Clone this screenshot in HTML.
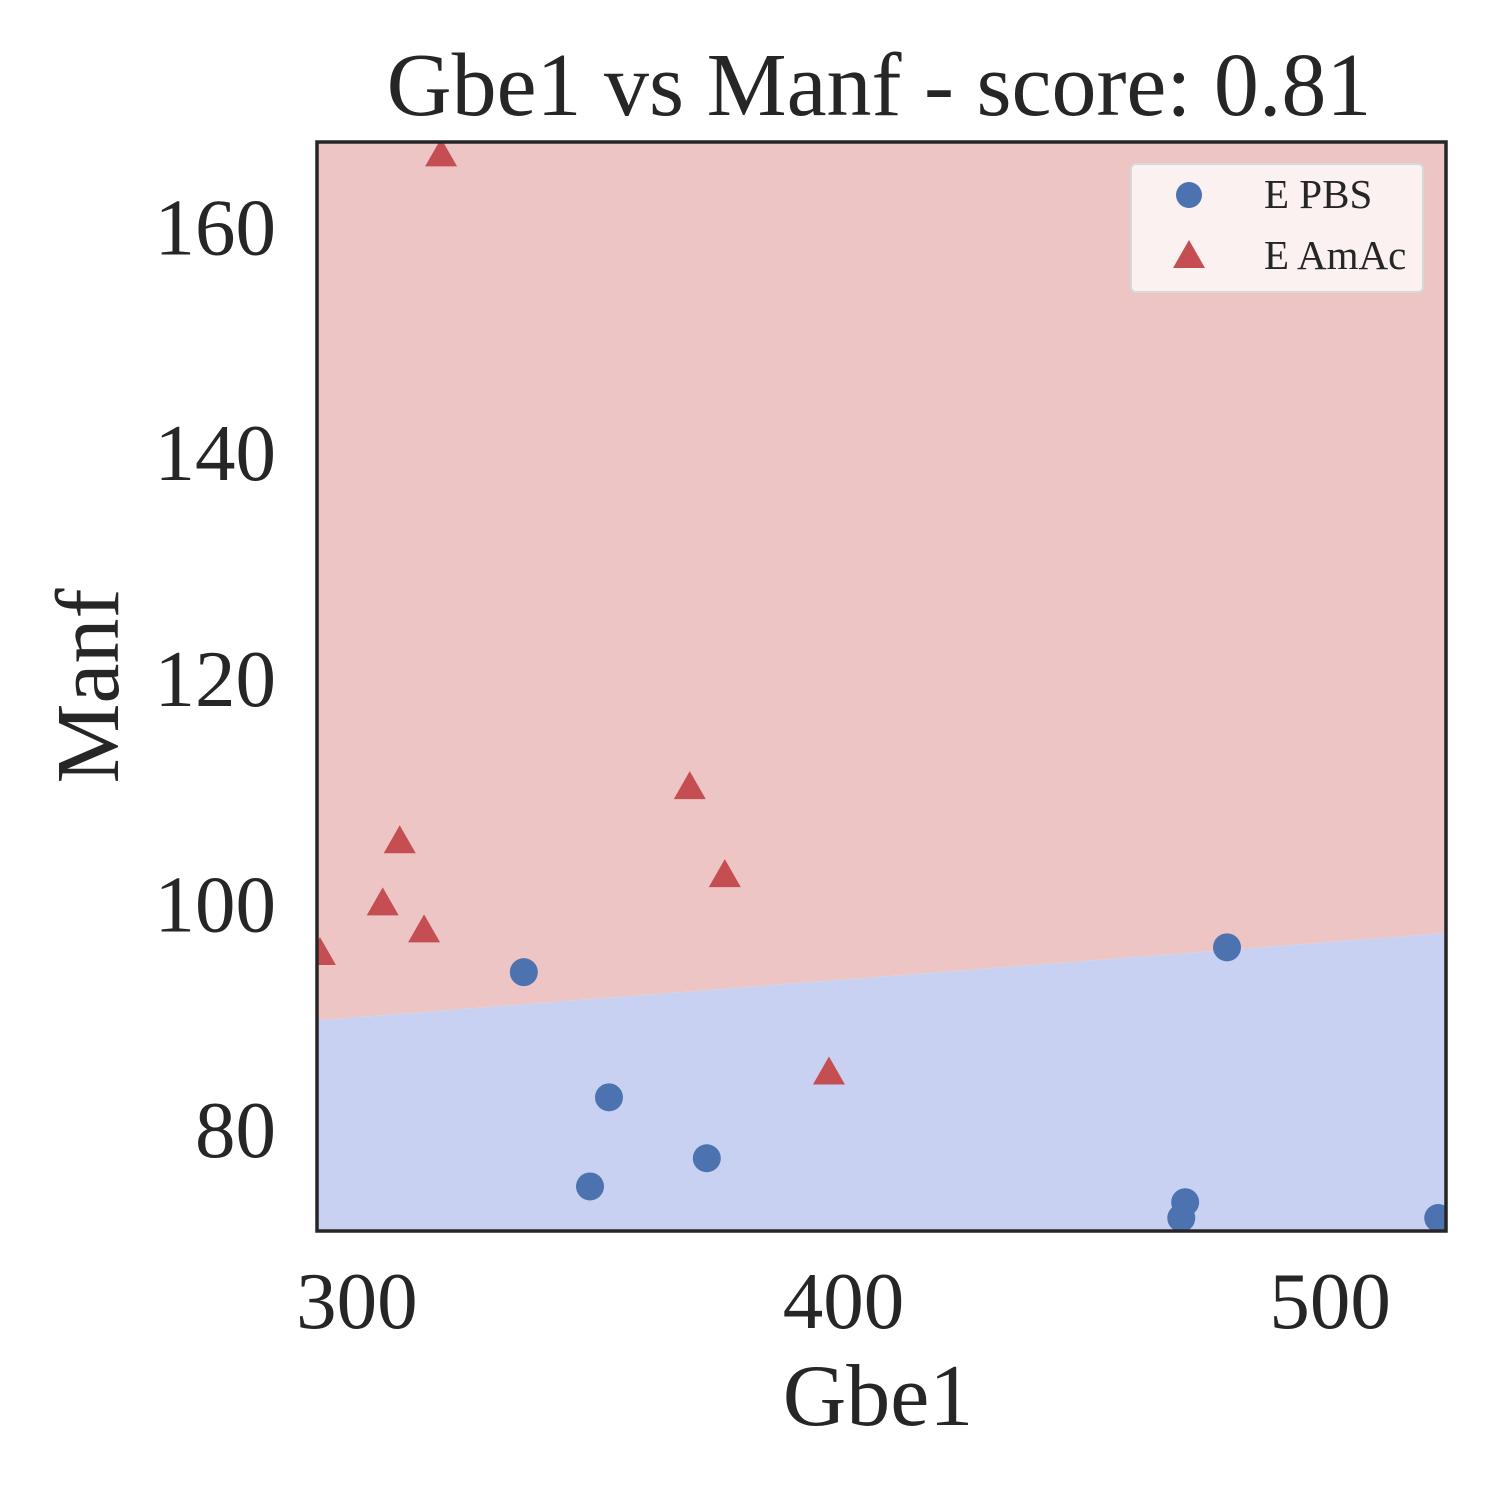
<!DOCTYPE html>
<html>
<head>
<meta charset="utf-8">
<style>
html,body{margin:0;padding:0;background:#fff;}
svg{display:block;}
text{font-family:"Liberation Serif","Times New Roman",serif;fill:#262626;}
</style>
</head>
<body>
<svg id="chart" width="1500" height="1500" viewBox="0 0 1500 1500" xmlns="http://www.w3.org/2000/svg">
  <defs>
    <clipPath id="plotclip"><rect x="317" y="142" width="1129" height="1089"/></clipPath>
  </defs>
  <g id="regions" clip-path="url(#plotclip)"></g>
  <g id="marks" clip-path="url(#plotclip)"></g>
  <rect x="317" y="142" width="1129" height="1089" fill="none" stroke="#262626" stroke-width="3.5"/>
  <g id="xticks"></g>
  <g id="yticks"></g>
  <text x="879" y="115" font-size="90" text-anchor="middle">Gbe1 vs Manf - score: 0.81</text>
  <text x="878" y="1425" font-size="88" text-anchor="middle">Gbe1</text>
  <text x="0" y="0" font-size="90" text-anchor="middle" transform="translate(118,686) rotate(-90)">Manf</text>
  <g>
    <rect x="1131" y="164" width="292" height="128" rx="5" fill="#fbf1f0" stroke="#d8d8d8" stroke-width="2"/>
    <circle cx="1189" cy="195" r="13" fill="#4c72b0"/>
    <text x="1264" y="208" font-size="41">E PBS</text>
    <polygon points="1189,240 1205,268 1173,268" fill="#c44e52"/>
    <text x="1264" y="269" font-size="41">E AmAc</text>
  </g>
</svg>
<script>
const xDomain = [291.8, 523.8];
const yDomain = [70.95, 167.5];
const xTicks = [300, 400, 500];
const yTicks = [80, 100, 120, 140, 160];
const boundaryX = [291.8, 523.8];
const boundaryY = [89.6, 97.4];
const pbsX = [334.3, 351.8, 347.9, 371.9, 478.8, 470.2, 469.4, 522.2];
const pbsY = [93.9, 82.8, 74.9, 77.4, 96.1, 73.5, 72.1, 72.1];
const amacX = [317.3, 292.4, 305.3, 308.8, 313.8, 368.4, 375.6, 397.0];
const amacY = [166.4, 95.6, 100.0, 105.5, 97.6, 110.3, 102.5, 85.0];

const PX0 = 317, PX1 = 1446, PY0 = 142, PY1 = 1231;
function sx(v){ return PX0 + (v - xDomain[0]) / (xDomain[1] - xDomain[0]) * (PX1 - PX0); }
function sy(v){ return PY1 - (v - yDomain[0]) / (yDomain[1] - yDomain[0]) * (PY1 - PY0); }
const NS = "http://www.w3.org/2000/svg";
function mk(tag, attrs){ const e = document.createElementNS(NS, tag); for (const k in attrs) e.setAttribute(k, attrs[k]); return e; }

const regions = document.getElementById('regions');
const bx0 = sx(boundaryX[0]), by0 = sy(boundaryY[0]), bx1 = sx(boundaryX[1]), by1 = sy(boundaryY[1]);
const red = mk('polygon', {points: `${PX0-5},${PY0-5} ${PX1+5},${PY0-5} ${bx1+5},${by1} ${bx0-5},${by0}`, fill: '#edc5c4'});


regions.appendChild(red);
const blue = mk('polygon', {points: `${bx0-5},${by0} ${bx1+5},${by1} ${PX1+5},${PY1+5} ${PX0-5},${PY1+5}`, fill: '#c8d1f1'});


regions.appendChild(blue);

const marks = document.getElementById('marks');
pbsX.forEach((x, i) => {
  const c = mk('circle', {cx: sx(x), cy: sy(pbsY[i]), r: 14, fill: '#4c72b0'});
  
  
  marks.appendChild(c);
});
amacX.forEach((x, i) => {
  const cx = sx(x), cy = sy(amacY[i]);
  const t = mk('polygon', {points: `${cx},${cy-16} ${cx+16},${cy+12} ${cx-16},${cy+12}`, fill: '#c44e52'});
  
  
  marks.appendChild(t);
});

const xt = document.getElementById('xticks');
xTicks.forEach(v => {
  const t = mk('text', {x: sx(v), y: 1328, 'font-size': 81, 'text-anchor': 'middle'});
  t.textContent = v;
  
  
  xt.appendChild(t);
});
const yt = document.getElementById('yticks');
yTicks.forEach(v => {
  const t = mk('text', {x: 276, y: sy(v) + 28, 'font-size': 81, 'text-anchor': 'end'});
  t.textContent = v;
  
  
  yt.appendChild(t);
});
</script>
</body>
</html>
